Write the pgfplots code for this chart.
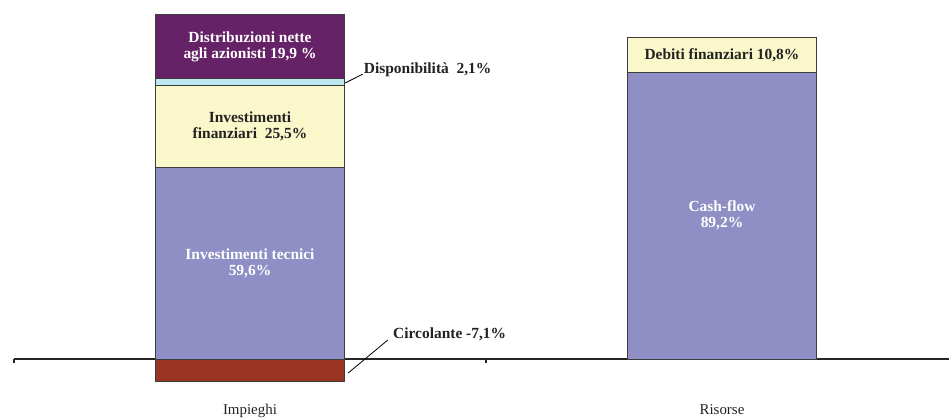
\documentclass[border=0pt]{standalone}
\usepackage{fontspec}
\setmainfont{Liberation Serif}
\usepackage{pgfplots}
\pgfplotsset{compat=1.18}
\definecolor{cBlue}{RGB}{143,143,198}
\definecolor{cYel}{RGB}{250,248,202}
\definecolor{cCyan}{RGB}{190,232,240}
\definecolor{cPurp}{RGB}{102,34,102}
\definecolor{cRed}{RGB}{153,51,34}
\definecolor{cEdge}{RGB}{60,60,60}
\definecolor{cText}{RGB}{34,34,34}
\pgfplotsset{base/.style={scale only axis, width=935bp, height=419bp,
  xmin=-0.5, xmax=1.481, ymin=-18.66, ymax=111.66, clip=false, bar width=189bp}}
\newcommand{\lab}{\fontsize{15.5}{16}\selectfont\bfseries}
\begin{document}
\begin{tikzpicture}
\begin{axis}[base, hide axis, ybar]
\addplot[fill=cRed, draw=cEdge, line width=0.8bp] coordinates {(0,-7.1)};
\end{axis}
\begin{axis}[base, ybar stacked,
  axis x line=middle, axis y line=none,
  axis line style={-, line width=1.8bp, color=black!85},
  ytick=\empty,
  xtick={-0.5,0.5,1.5}, xticklabels={},
  tick align=outside, major tick length=4bp,
  tick style={line width=1.4bp, color=black!85},
  extra x ticks={0,1}, extra x tick labels={Impieghi,Risorse},
  extra x tick style={major tick length=0pt,
    xticklabel style={yshift=-45bp, inner sep=0pt, font=\fontsize{15}{16}\selectfont, text=cText}},
]
\addplot[fill=cBlue, draw=cEdge, line width=0.8bp] coordinates {(0,59.6) (1,89.2)};
\addplot[fill=cYel, draw=cEdge, line width=0.8bp] coordinates {(0,25.5) (1,10.8)};
\addplot[fill=cCyan, draw=cEdge, line width=0.8bp] coordinates {(0,2.1)};
\addplot[fill=cPurp, draw=cEdge, line width=0.8bp] coordinates {(0,19.9)};
\coordinate (BL) at (rel axis cs:0,0);
\coordinate (TR) at (rel axis cs:1,1);
\coordinate (L1) at (axis cs:0,29.8);
\coordinate (L2) at (axis cs:0,72.35);
\coordinate (L3) at (axis cs:0,97.15);
\coordinate (L4) at (axis cs:1,44.6);
\coordinate (L5) at (axis cs:1,94.6);
\coordinate (D1) at (axis cs:0.201,85.8);
\coordinate (D2) at (axis cs:0.239,88.6);
\coordinate (D3) at (axis cs:0.241,89.9);
\coordinate (C1) at (axis cs:0.208,-4.35);
\coordinate (C2) at (axis cs:0.292,5.9);
\coordinate (C3) at (axis cs:0.303,7.8);
\end{axis}
\node[text=white, align=center, font=\lab, inner sep=0pt] at (L1) {Investimenti tecnici\\59,6\%};
\node[text=cText, align=center, font=\lab, inner sep=0pt] at (L2) {Investimenti\\finanziari\ \ 25,5\%};
\node[text=white, align=center, font=\lab, inner sep=0pt] at (L3) {Distribuzioni nette\\agli azionisti 19,9 \%};
\node[text=white, align=center, font=\lab, inner sep=0pt] at (L4) {Cash-flow\\89,2\%};
\node[text=cText, align=center, font=\lab, inner sep=0pt] at (L5) {Debiti finanziari 10,8\%};
\draw[black, line width=0.8bp] (D1) -- (D2);
\node[text=cText, anchor=west, font=\lab, inner sep=0pt] at (D3) {Disponibilità\ \ 2,1\%};
\draw[black, line width=0.8bp] (C1) -- (C2);
\node[text=cText, anchor=west, font=\lab, inner sep=0pt] at (C3) {Circolante -7,1\%};
\pgfresetboundingbox
\useasboundingbox ([xshift=-14bp]BL) rectangle (TR);
\end{tikzpicture}
\end{document}
